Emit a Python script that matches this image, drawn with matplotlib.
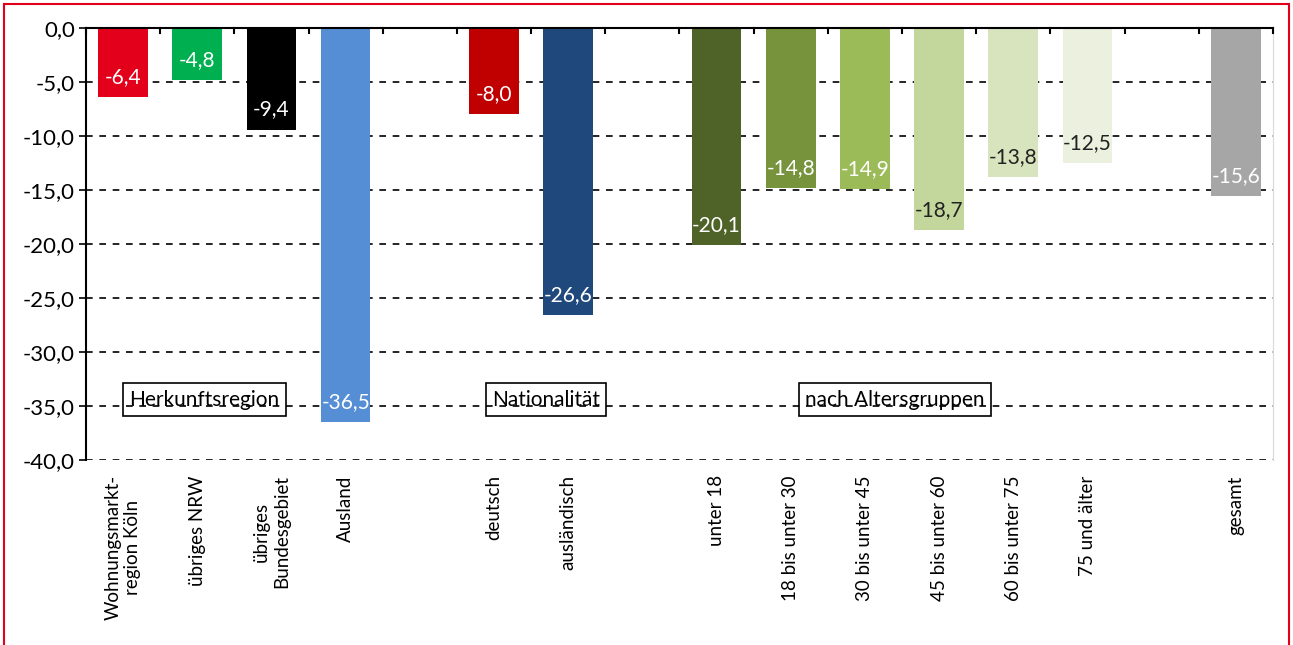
import numpy as np
import matplotlib.pyplot as plt
from matplotlib.patches import Rectangle

plt.rcParams['font.family'] = ['Lato', 'DejaVu Sans']

kategorien = ['Wohnungsmarkt-\nregion Köln', 'übriges NRW', 'übriges\nBundesgebiet', 'Ausland', '',
              'deutsch', 'ausländisch', '',
              'unter 18', '18 bis unter 30', '30 bis unter 45', '45 bis unter 60',
              '60 bis unter 75', '75 und älter', '', 'gesamt']
werte = [-6.4, -4.8, -9.4, -36.5, None, -8.0, -26.6, None,
         -20.1, -14.8, -14.9, -18.7, -13.8, -12.5, None, -15.6]
farben = ['#E3001B', '#00B050', '#000000', '#558ED5', None, '#C00000', '#1F497D', None,
          '#4F6228', '#77933C', '#9BBB59', '#C3D69B', '#D7E4BD', '#EBF1DE', None, '#A6A6A6']
textfarben = ['white', 'white', 'white', 'white', None, 'white', 'white', None,
              'white', 'white', 'white', '#222222', '#222222', '#222222', None, 'white']
gruppen = ['Herkunftsregion', 'Nationalität', 'nach Altersgruppen']
gruppen_x = [1.1, 5.7, 10.4]

fig = plt.figure(figsize=(12.93, 6.45), dpi=100)
ax = fig.add_axes([0.0665, 0.2868, 0.918, 0.6698])

x = np.arange(len(kategorien))
for i, v in enumerate(werte):
    if v is None:
        continue
    ax.bar(i, v, width=0.67, color=farben[i], zorder=2)
    ax.annotate(f'{v:.1f}'.replace('.', ','), xy=(i, v), xytext=(0, 14.5),
                textcoords='offset points', ha='center', va='center',
                fontsize=15, color=textfarben[i], zorder=3)

for g, gx in zip(gruppen, gruppen_x):
    ax.text(gx, -34.4, g, ha='center', va='center', fontsize=15, zorder=1,
            bbox=dict(boxstyle='square,pad=0.3', fc='none', ec='black', lw=1.2))

ax.set_xlim(-0.5, len(kategorien) - 0.5)
ax.set_ylim(-40, 0)
ax.set_yticks(np.arange(-40, 1, 5))
ax.set_yticklabels([f'{t:.1f}'.replace('.', ',') for t in np.arange(-40, 1, 5)], fontsize=16)
ax.yaxis.grid(True, linestyle=(0, (4, 4)), color='black', lw=1.2, zorder=0)
ax.set_axisbelow(True)

ax.set_xticks(x)
ax.set_xticklabels(kategorien, rotation=90, fontsize=13.5, ha='center', va='top',
                   multialignment='center')
ax.tick_params(axis='x', length=0, pad=11)
ax.tick_params(axis='y', length=5, width=1.2, direction='out', pad=3)

# ticks an der Nulllinie oben
for b in np.arange(-0.5, len(kategorien), 1):
    ax.plot([b, b], [0, -0.45], color='black', lw=1.5, zorder=4, clip_on=False)

ax.spines['bottom'].set_visible(False)
ax.spines['top'].set_linewidth(1.5)
ax.spines['left'].set_linewidth(1.5)
ax.spines['right'].set_color('#D9D9D9')

fig.patches.append(Rectangle((0.003, -0.05), 0.994, 1.044, transform=fig.transFigure,
                             fill=False, ec='#E3001B', lw=1.5))

fig.savefig('out.png', dpi=100)
